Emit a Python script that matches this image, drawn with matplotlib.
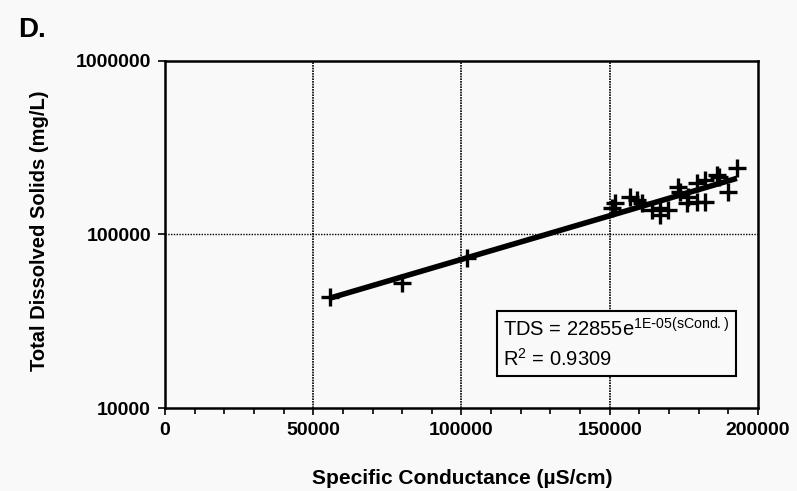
import numpy as np
import matplotlib.pyplot as plt
from matplotlib.ticker import FixedLocator, MultipleLocator, FuncFormatter

# dados (condutancia especifica x solidos totais dissolvidos)
cond = [55700, 80000, 101900,
        150800, 151800, 156800, 159200, 160900, 164300, 167000, 167000,
        169700, 173000, 173700, 176100, 176400, 179400, 179400, 182100,
        182100, 186200, 187000, 189900, 192900]
tds = [43700, 52600, 73200,
       142200, 152000, 164500, 158000, 152000, 138400, 142000, 129500,
       138400, 188000, 176000, 152000, 164500, 198000, 154000, 154000,
       206000, 220000, 214000, 176000, 241000]

eq_text = "TDS = 22855e$^{\\mathregular{1E\\text{-}05(sCond.)}}$"
r2_text = "R$^{\\mathregular{2}}$ = 0.9309"

plt.rcParams['font.family'] = ['Liberation Sans', 'DejaVu Sans']
bg = '#f9f9f9'

fig = plt.figure(figsize=(7.97, 4.91), dpi=100, facecolor=bg)
ax = fig.add_axes([0.207, 0.169, 0.744, 0.707], facecolor=bg)

# linha de tendencia exponencial (ajuste em ln)
b, ln_a = np.polyfit(cond, np.log(tds), 1)
xs = np.linspace(min(cond), max(cond), 50)
ax.plot(xs, np.exp(ln_a) * np.exp(b * xs), color='black', lw=4, solid_capstyle='butt', zorder=3)

ax.plot(cond, tds, linestyle='none', marker='+', color='black', markersize=13, markeredgewidth=2.4, zorder=4)

ax.set_yscale('log')
ax.set_xlim(0, 200000)
ax.set_ylim(10000, 1000000)

ax.xaxis.set_major_locator(MultipleLocator(50000))
ax.xaxis.set_minor_locator(MultipleLocator(10000))
ax.yaxis.set_major_locator(FixedLocator([10000, 100000, 1000000]))
ax.yaxis.set_minor_locator(FixedLocator([]))
ax.yaxis.set_major_formatter(FuncFormatter(lambda v, p: "%d" % v))
ax.xaxis.set_major_formatter(FuncFormatter(lambda v, p: "%d" % v))

ax.tick_params(axis='both', which='major', direction='out', length=5, width=1.2, labelsize=14, pad=5)
ax.tick_params(axis='x', which='minor', direction='out', length=4, width=1.2)
for lab in ax.get_xticklabels() + ax.get_yticklabels():
    lab.set_fontweight('bold')

for s in ax.spines.values():
    s.set_linewidth(1.8)
    s.set_color('black')

# grade
for gx in [50000, 100000, 150000]:
    ax.axvline(gx, color='black', lw=1.2, linestyle=(0, (1, 0.6)), zorder=1)
ax.axhline(100000, color='black', lw=1.0, linestyle=(0, (1, 1)), zorder=1)

ax.set_xlabel("Specific Conductance (µS/cm)", fontsize=15, fontweight='bold', va='center')
ax.xaxis.set_label_coords(0.501, -0.202)
ax.set_ylabel("Total Dissolved Solids (mg/L)", fontsize=14.5, fontweight='bold', va='center')
ax.yaxis.set_label_coords(-0.211, 0.51)

ax.text(0.570, 0.186, eq_text + "\n" + r2_text, transform=ax.transAxes, fontsize=14.5,
        va='center', ha='left', linespacing=1.45,
        bbox=dict(boxstyle='square,pad=0.3', facecolor=bg, edgecolor='black', lw=1.5), zorder=5)

fig.text(18 / 797, 1 - 30 / 491, "D.", fontsize=20, fontweight='bold', va='center')

fig.savefig("out.png", dpi=100, facecolor=bg)
